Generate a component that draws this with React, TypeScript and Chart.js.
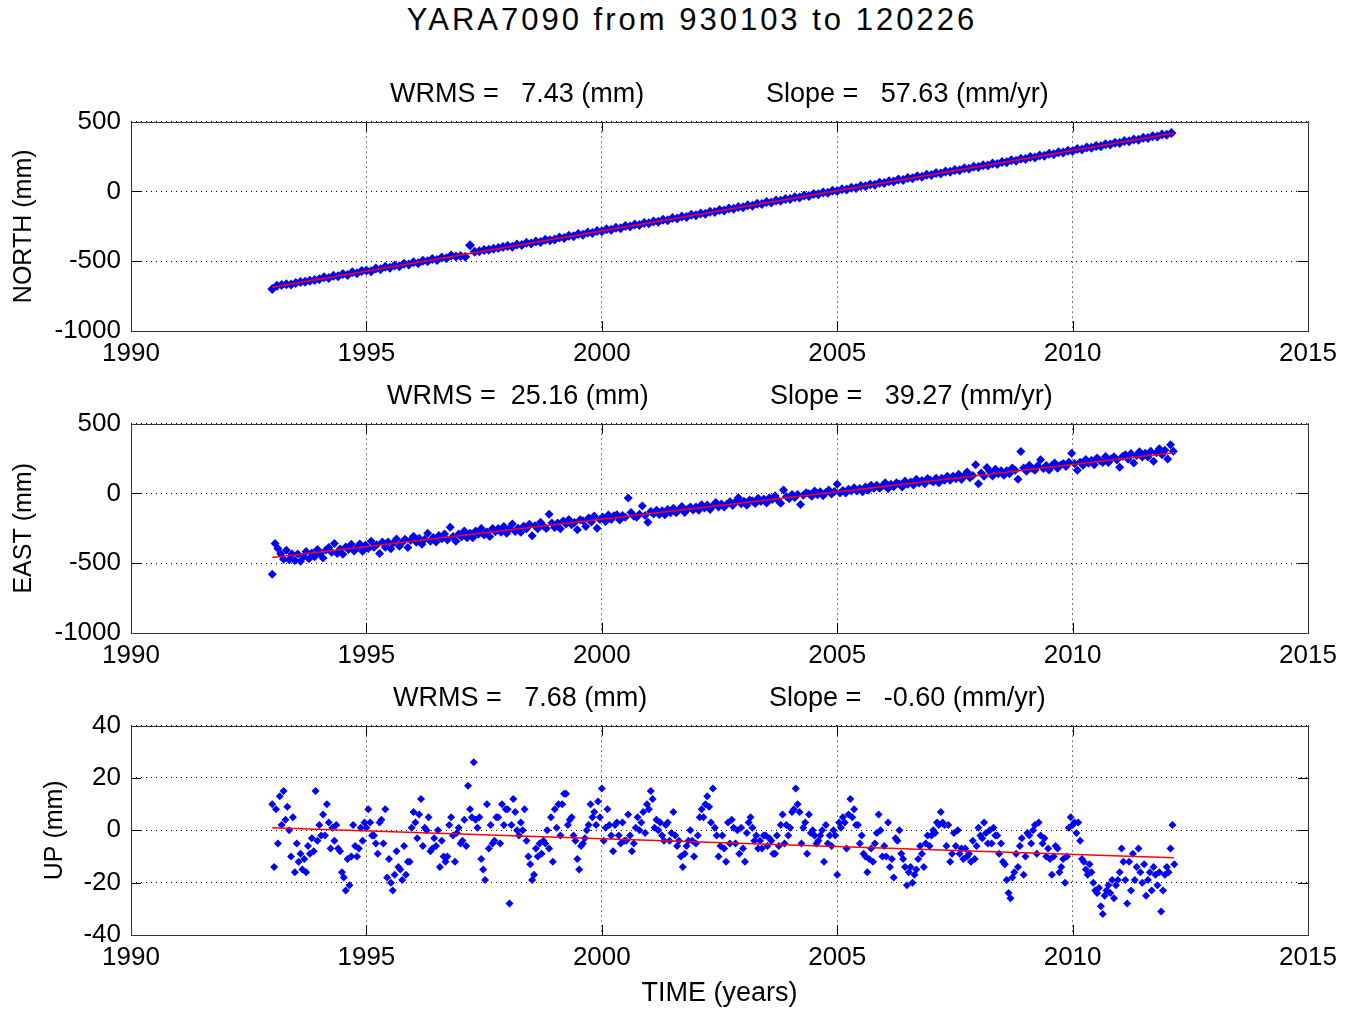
import React, { useEffect, useRef } from "react";
import { Chart, registerables } from "chart.js";

Chart.register(...registerables);

const FONT = "'Liberation Sans', Arial, Helvetica, sans-serif";

// ---- tick labels ----
const X_TICKS = [1990, 1995, 2000, 2005, 2010, 2015];
const NE_Y_TICKS = [-1000, -500, 0, 500];
const UP_Y_TICKS = [-40, -20, 0, 20, 40];

// ---- sampling epochs (decimal years) ----
const NORTH_T0 = 1993.0;
const NORTH_DT = 0.1;
const EAST_T0 = 1993.0;
const EAST_DT = 0.06;
const UP_T0 = 1993.0;
const UP_DT = 0.04;

// ---- NORTH (mm) ----
const northValues = [
  -700, -676, -671, -665, -667, -656, -649, -648, -640, -634,
  -630, -615, -620, -605, -608, -592, -598, -580, -586, -570,
  -566, -572, -553, -558, -540, -547, -530, -536, -518, -524,
  -508, -515, -496, -500, -484, -492, -473, -478, -460, -466,
  -462, -468, -386, -432, -428, -420, -418, -410, -405, -398,
  -392, -396, -380, -384, -368, -373, -358, -362, -346, -350,
  -344, -330, -333, -318, -322, -306, -310, -295, -298, -284,
  -286, -272, -275, -260, -264, -248, -252, -238, -240, -226,
  -228, -215, -217, -203, -206, -190, -194, -180, -183, -168,
  -170, -158, -160, -146, -148, -134, -137, -122, -125, -111,
  -114, -100, -102, -88, -91, -76, -79, -65, -67, -54,
  -55, -42, -44, -30, -33, -18, -21, -8, -10, 4,
  3, 15, 13, 27, 25, 38, 36, 50, 48, 62,
  60, 73, 71, 85, 82, 96, 94, 108, 105, 119,
  117, 131, 128, 142, 140, 154, 151, 165, 163, 177,
  175, 188, 186, 200, 197, 211, 209, 223, 220, 234,
  232, 246, 243, 257, 255, 269, 266, 280, 278, 292,
  290, 303, 301, 315, 313, 326, 324, 338, 336, 349,
  347, 361, 359, 372, 370, 384, 382, 395, 393, 407,
  405, 418,
];

// ---- EAST (mm) ----
const eastValues = [
  -580, -358, -395, -433, -471, -408, -476, -434, -481, -434,
  -486, -454, -417, -469, -427, -454, -402, -430, -462, -405,
  -388, -421, -358, -431, -398, -436, -384, -401, -364, -412,
  -389, -362, -415, -372, -395, -343, -385, -368, -430, -348,
  -386, -348, -396, -354, -326, -379, -352, -329, -387, -335,
  -307, -350, -322, -365, -328, -285, -343, -316, -348, -301,
  -324, -291, -334, -242, -309, -342, -290, -312, -270, -318,
  -285, -318, -270, -293, -251, -298, -276, -309, -251, -274,
  -252, -279, -237, -285, -252, -220, -273, -250, -278, -236,
  -253, -221, -303, -231, -254, -206, -234, -252, -149, -212,
  -244, -212, -254, -197, -220, -187, -225, -208, -260, -188,
  -196, -238, -176, -204, -161, -249, -187, -169, -202, -155,
  -187, -160, -153, -190, -158, -171, -33, -136, -164, -171,
  -149, -91, -159, -207, -129, -147, -120, -152, -125, -153,
  -115, -138, -106, -138, -116, -94, -136, -114, -97, -119,
  -97, -120, -82, -105, -83, -115, -88, -66, -98, -76,
  -98, -76, -59, -86, -59, -32, -74, -57, -85, -47,
  -55, -73, -35, -58, -41, -68, -31, -44, -16, -49,
  -71, 25, -22, -39, -7, -30, -7, -80, -13, 5,
  -2, -20, 17, -10, 12, -16, 7, 24, -4, 14,
  65, 3, 21, 3, 30, 18, 40, 17, 35, 12,
  45, 22, 59, 37, 59, 36, 54, 76, 33, 66,
  48, 76, 68, 45, 88, 65, 82, 60, 102, 74,
  92, 69, 106, 94, 81, 108, 76, 108, 95, 123,
  95, 123, 105, 137, 100, 127, 154, 112, 129, 205,
  69, 146, 123, 186, 158, 125, 173, 140, 162, 130,
  163, 140, 182, 165, 102, 300, 182, 159, 201, 179,
  166, 198, 241, 178, 200, 168, 200, 217, 180, 202,
  215, 192, 224, 287, 214, 166, 224, 201, 243, 216,
  238, 205, 253, 235, 222, 265, 222, 249, 262, 239,
  187, 264, 276, 244, 286, 218, 271, 298, 260, 288,
  260, 302, 230, 292, 319, 277, 309, 246, 349, 302,
];

// ---- UP (mm) ----
const upValues = [
  10, -14, 8, -5, 13, 2, 15, 4, 9, 0,
  -10, 5, -16, -5, -12, -9, -15, -11, -16, -6,
  -9, -3, -8, 15, -4, 2, -2, 6, -2, 10,
  3, -7, 1, -4, 2, -7, -8, -16, -18, -23,
  -11, -21, -10, 2, -6, -10, -7, 1, -4, 3,
  1, 8, 3, -2, -2, -5, -9, 3, 4, -5,
  8, -18, -11, -20, -23, -17, -8, -14, -15, -19,
  -6, -17, -12, -12, 1, 7, 3, -3, 6, 12,
  -6, 1, 0, 5, -8, -7, -3, -6, 0, -14,
  -4, -10, -12, -10, 2, 5, -2, -12, -1, 1,
  -5, -4, 4, -6, 17, 8, 5, 26, 4, 1,
  5, -11, -15, -19, 10, -7, 2, -5, -4, 5,
  5, -5, 10, 2, 8, 8, -28, 2, 12, 7,
  0, -2, 3, 0, 8, -4, -10, -13, -19, -17,
  -7, -10, -5, -9, -4, -5, 0, -7, 5, -12,
  8, 1, 10, -2, 10, 14, 14, 2, 4, 5,
  -2, -4, -11, -15, -6, -5, -3, 0, 2, 10,
  5, 7, 2, 11, 5, 16, -4, 1, 8, 2,
  -2, -8, 2, 3, -2, -5, 3, -4, -4, 6,
  -2, -8, -5, 1, 5, 0, 3, 7, -1, 10,
  8, 15, 12, 1, 4, 0, 3, -2, -4, 2,
  3, -4, -1, 7, -2, -6, -4, -10, -14, -9,
  -6, -4, 0, -4, -10, -5, -2, 5, 8, 5,
  10, 13, 9, 3, 16, 1, -2, -10, -6, -2,
  -7, -12, 3, -5, 4, 1, -5, 0, -9, 1,
  -7, -12, -1, 3, 5, 1, -4, -2, -7, -4,
  -7, -2, -2, -6, -3, -4, -9, -9, -2, -6,
  2, 6, -5, 2, -2, 1, 7, 8, 16, 10,
  7, -5, 1, 3, -9, 6, -1, 0, -2, -5,
  -4, -2, 0, -12, 2, -5, -2, -6, 0, -2,
  -17, 3, 1, 5, 3, -7, 6, 12, 5, 8,
  2, 2, -5, -2, -9, -10, -16, -11, -7, -12,
  -5, -1, 6, 0, -10, -6, -10, 3, -14, -11,
  -18, -3, -4, 0, -9, -11, -14, -21, -16, -14,
  -20, -17, -15, -11, -6, -9, -14, -5, -2, -6,
  -2, 0, -1, 3, 2, 7, 3, 2, -6, 2,
  -12, -9, -1, -6, 0, -9, -7, -11, -7, -10,
  -9, -12, -4, -11, -6, 1, -2, -3, 3, -1,
  -5, 0, -5, 1, -2, -2, -9, -5, -12, -13,
  -19, -24, -26, -18, -16, -9, -14, -6, -3, -17,
  -10, -1, -2, -5, 0, 2, -9, 3, -2, -5,
  -3, -10, -7, -11, -17, -10, -6, -7, -16, -14,
  -11, -20, -10, 1, 5, 2, 3, -1, 3, -4,
  -11, -12, -15, -17, -13, -16, -20, -23, -24, -22,
  -29, -32, -25, -23, -21, -24, -19, -26, -21, -19,
  -16, -7, -12, -19, -28, -12, -23, -9, -19, -14,
  -7, -16, -20, -13, -25, -19, -16, -23, -14, -17,
  -21, -16, -31, -23, -17, -14, -16, -7, 2, -13,
];

// ---- fitted trend lines ----
const fitYears = [1993.0, 2012.15];
const northFit = [-686, 417];
const eastFit = [-460, 292];
const upFit = [1, -10.5];

// ---- texts ----
const MAIN_TITLE = "YARA7090 from 930103 to 120226";
const wrmsTexts = ["WRMS =   7.43 (mm)", "WRMS =  25.16 (mm)", "WRMS =   7.68 (mm)"];
const slopeTexts = ["Slope =   57.63 (mm/yr)", "Slope =   39.27 (mm/yr)", "Slope =   -0.60 (mm/yr)"];
const yLabels = ["NORTH (mm)", "EAST (mm)", "UP (mm)"];
const X_LABEL = "TIME (years)";

const framePlugin = {
  id: "matlabFrame",
  afterDraw(chart: any) {
    const { ctx, chartArea } = chart;
    const { left, right, top, bottom } = chartArea;
    const xs = chart.scales.x;
    const ys = chart.scales.y;
    const tl = 10;
    ctx.save();
    ctx.strokeStyle = "#000";
    ctx.lineWidth = 1;
    ctx.setLineDash([]);
    ctx.beginPath();
    for (const t of xs.ticks) {
      const px = Math.round(xs.getPixelForValue(t.value)) + 0.5;
      ctx.moveTo(px, top);
      ctx.lineTo(px, top + tl);
      ctx.moveTo(px, bottom);
      ctx.lineTo(px, bottom - tl);
    }
    for (const t of ys.ticks) {
      const py = Math.round(ys.getPixelForValue(t.value)) + 0.5;
      ctx.moveTo(left, py);
      ctx.lineTo(left + tl, py);
      ctx.moveTo(right, py);
      ctx.lineTo(right - tl, py);
    }
    ctx.stroke();
    ctx.strokeStyle = "#333";
    ctx.strokeRect(Math.round(left) + 0.5, Math.round(top) + 0.5, Math.round(right - left), Math.round(bottom - top));
    ctx.restore();
  },
};

interface PanelProps {
  canvasTop: number;
  canvasHeight: number;
  xAxisHeight: number;
  values: number[];
  t0: number;
  dt: number;
  fit: number[];
  yTicks: number[];
  yLabel: string;
  yTitlePad: number;
  markerRadius: number;
  xTitle?: string;
}

function Panel(p: PanelProps) {
  const ref = useRef<HTMLCanvasElement | null>(null);
  useEffect(() => {
    if (!ref.current) return;
    const points = p.values.map((v, i) => ({ x: p.t0 + i * p.dt, y: v }));
    const line = fitYears.map((t, i) => ({ x: t, y: p.fit[i] }));
    const yMin = p.yTicks[0];
    const yMax = p.yTicks[p.yTicks.length - 1];
    const chart = new Chart(ref.current, {
      type: "scatter",
      data: {
        datasets: [
          {
            data: line,
            showLine: true,
            borderColor: "#ff0000",
            borderWidth: 1.5,
            pointRadius: 0,
            fill: false,
          } as any,
          {
            data: points,
            pointStyle: "rectRot",
            pointRadius: p.markerRadius,
            backgroundColor: "#0000ff",
            borderColor: "#0000ff",
            borderWidth: 0,
          } as any,
        ],
      },
      options: {
        animation: false,
        responsive: false,
        devicePixelRatio: 1,
        events: [],
        layout: { padding: { top: 25, right: 37, left: 0, bottom: 0 } },
        plugins: {
          legend: { display: false },
          tooltip: { enabled: false },
          title: { display: false },
        },
        scales: {
          x: {
            type: "linear",
            min: 1990,
            max: 2015,
            afterBuildTicks: (s: any) => {
              s.ticks = X_TICKS.map((v) => ({ value: v }));
            },
            afterFit: (s: any) => {
              s.height = p.xAxisHeight;
            },
            ticks: {
              callback: (v: any) => String(v),
              font: { family: FONT, size: 26 },
              color: "#000",
              padding: 7,
              maxRotation: 0,
              autoSkip: false,
            },
            grid: { color: "#000", lineWidth: 1, drawTicks: false },
            border: { display: false, dash: [1, 4] },
            title: p.xTitle
              ? {
                  display: true,
                  text: p.xTitle,
                  font: { family: FONT, size: 27 },
                  color: "#000",
                  padding: { top: 0, bottom: 0 },
                }
              : { display: false },
          },
          y: {
            type: "linear",
            min: yMin,
            max: yMax,
            afterBuildTicks: (s: any) => {
              s.ticks = p.yTicks.map((v) => ({ value: v }));
            },
            afterFit: (s: any) => {
              s.width = 131;
            },
            ticks: {
              callback: (v: any) => String(v),
              font: { family: FONT, size: 26 },
              color: "#000",
              padding: 10,
              autoSkip: false,
            },
            grid: { color: "#000", lineWidth: 1, drawTicks: false },
            border: { display: false, dash: [1, 4] },
            title: {
              display: true,
              text: p.yLabel,
              font: { family: FONT, size: 25 },
              color: "#000",
              padding: { top: p.yTitlePad, bottom: 0 },
            },
          },
        },
      } as any,
      plugins: [framePlugin],
    });
    return () => chart.destroy();
  }, []);
  return (
    <canvas
      ref={ref}
      width={1345}
      height={p.canvasHeight}
      style={{ position: "absolute", left: 0, top: p.canvasTop, width: 1345, height: p.canvasHeight, display: "block" }}
    />
  );
}

const textStyle: React.CSSProperties = {
  position: "absolute",
  fontFamily: FONT,
  fontSize: 27,
  lineHeight: "30px",
  whiteSpace: "pre",
  color: "#000",
};

export default function App() {
  const subTops = [78, 380, 682];
  const wrmsLeft = [390, 387, 393];
  const slopeLeft = [766, 770, 769];
  return (
    <div style={{ position: "fixed", left: 0, top: 0, width: 1345, height: 1010, overflow: "hidden", background: "#fff" }}>
      <Panel canvasTop={96} canvasHeight={285} xAxisHeight={50} values={northValues} t0={NORTH_T0} dt={NORTH_DT}
        fit={northFit} yTicks={NE_Y_TICKS} yLabel={yLabels[0]} yTitlePad={9} markerRadius={5} />
      <Panel canvasTop={398} canvasHeight={285} xAxisHeight={50} values={eastValues} t0={EAST_T0} dt={EAST_DT}
        fit={eastFit} yTicks={NE_Y_TICKS} yLabel={yLabels[1]} yTitlePad={9} markerRadius={4.5} />
      <Panel canvasTop={700} canvasHeight={310} xAxisHeight={75} values={upValues} t0={UP_T0} dt={UP_DT}
        fit={upFit} yTicks={UP_Y_TICKS} yLabel={yLabels[2]} yTitlePad={40} xTitle={X_LABEL} markerRadius={4} />
      <div style={{ ...textStyle, left: 0, top: 2, width: 1384, textAlign: "center", fontSize: 31, lineHeight: "36px", letterSpacing: "3px" }}>
        {MAIN_TITLE}
      </div>
      {subTops.map((t, i) => (
        <React.Fragment key={i}>
          <div style={{ ...textStyle, left: wrmsLeft[i], top: t }}>{wrmsTexts[i]}</div>
          <div style={{ ...textStyle, left: slopeLeft[i], top: t }}>{slopeTexts[i]}</div>
        </React.Fragment>
      ))}
    </div>
  );
}
